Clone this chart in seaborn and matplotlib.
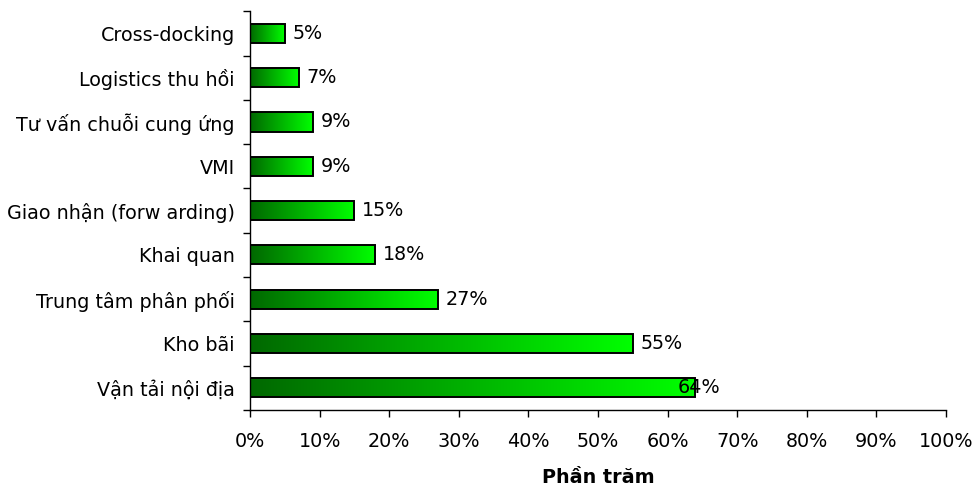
import numpy as np
import pandas as pd
import matplotlib
matplotlib.use("Agg")
import matplotlib.pyplot as plt
from matplotlib.colors import LinearSegmentedColormap
from matplotlib.ticker import FixedLocator, PercentFormatter
import seaborn as sns

# Survey results: share of logistics service providers offering each service
services = [
    "Cross-docking",
    "Logistics thu hồi",
    "Tư vấn chuỗi cung ứng",
    "VMI",
    "Giao nhận (forw arding)",
    "Khai quan",
    "Trung tâm phân phối",
    "Kho bãi",
    "Vận tải nội địa",
]
shares = [5, 7, 9, 9, 15, 18, 27, 55, 64]
x_ticks = [0, 10, 20, 30, 40, 50, 60, 70, 80, 90, 100]
x_title = "Phần trăm"

df = pd.DataFrame({"service": services, "share": shares})

sns.set_theme(style="white")
plt.rcParams["font.family"] = ["DejaVu Sans"]
plt.rcParams["text.color"] = "black"
plt.rcParams["axes.labelcolor"] = "black"
plt.rcParams["xtick.color"] = "black"
plt.rcParams["ytick.color"] = "black"

FS = 13.8

fig = plt.figure(figsize=(9.79, 4.87), dpi=100)
ax = fig.add_axes([0.2554, 0.158, 0.9663 - 0.2554, 0.977 - 0.158])

sns.barplot(data=df, x="share", y="service", orient="h", ax=ax,
            width=0.43, color="#00cc00", edgecolor="black", linewidth=1.4)

# Dark-to-bright green horizontal gradient inside each bar
grad_cmap = LinearSegmentedColormap.from_list("grn", ["#006800", "#00ff00"])
gradient = np.linspace(0, 1, 256).reshape(1, -1)
for patch in ax.patches:
    x0, y0 = patch.get_x(), patch.get_y()
    w, h = patch.get_width(), patch.get_height()
    patch.set_facecolor("none")
    img = ax.imshow(gradient, cmap=grad_cmap, aspect="auto",
                    extent=[x0, x0 + w, y0 + h, y0], zorder=patch.get_zorder() - 0.1,
                    interpolation="bilinear")
    img.set_clip_path(patch)

ax.set_xlim(0, 100)
ax.set_ylim(len(services) - 0.5, -0.5)

# Value labels just past the bar ends; the longest one sits back over its bar
label_shift = {"Vận tải nội địa": -3.7}
for i, (name, val) in enumerate(zip(services, shares)):
    ax.text(val + 1.1 + label_shift.get(name, 0), i, f"{val}%", va="center", ha="left",
            fontsize=FS, color="black", zorder=5)

ax.xaxis.set_major_locator(FixedLocator(x_ticks))
ax.xaxis.set_major_formatter(PercentFormatter(decimals=0))
ax.tick_params(axis="x", direction="out", length=5, width=1, color="black",
               labelsize=FS, labelcolor="black", pad=10.5, bottom=True)
ax.tick_params(axis="y", which="major", length=0, labelsize=FS, labelcolor="black", pad=11)
ax.yaxis.set_minor_locator(FixedLocator(np.arange(-0.5, len(services), 1.0)))
ax.tick_params(axis="y", which="minor", direction="out", length=5, width=1,
               color="black", left=True)

ax.set_ylabel("")
ax.set_xlabel(x_title, fontsize=FS, fontweight="bold", color="black", labelpad=12.5)

for side in ("top", "right"):
    ax.spines[side].set_visible(False)
for side in ("left", "bottom"):
    ax.spines[side].set_color("black")
    ax.spines[side].set_linewidth(1.0)

fig.savefig("out.png", dpi=100)
